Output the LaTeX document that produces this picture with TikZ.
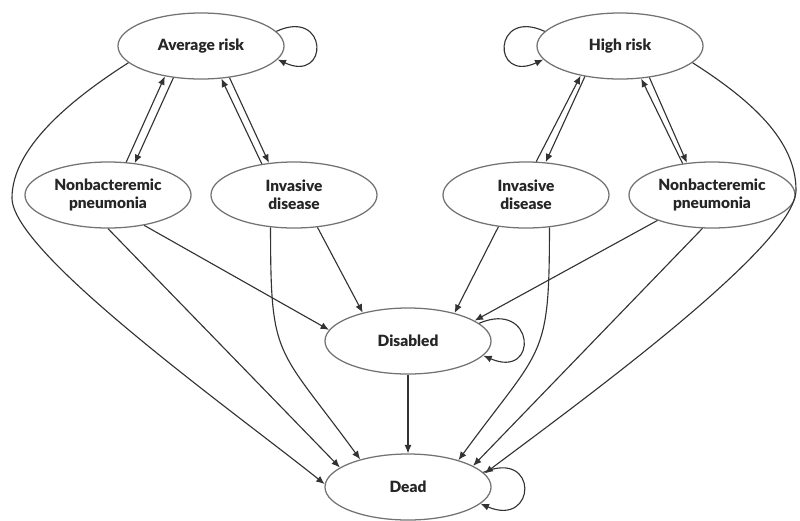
\documentclass[tikz,border=0pt]{standalone}
\usepackage{fontspec}
\setmainfont{Lato}[BoldFont=Lato Black]
\usepackage{xcolor}
\usetikzlibrary{shapes.geometric, arrows.meta}

\begin{document}
\begin{tikzpicture}[x=0.025cm, y=-0.025cm,
	state/.style={ellipse, draw=black!55, line width=0.9pt, minimum width=4.15cm, minimum height=1.65cm, inner sep=0pt, align=center, font=\fontsize{11}{13}\selectfont\bfseries, text=black!85},
	link/.style={draw=black!80, line width=0.8pt, -{Latex[length=6pt,width=5pt]}}]
	\useasboundingbox (0,0) rectangle (800,520);
	\node[state] (avg) at (201,46) {Average risk};
	\node[state] (high) at (620,46) {High risk};
	\node[state] (npl) at (108,195) {Nonbacteremic\\pneumonia};
	\node[state] (invl) at (294,195) {Invasive\\disease};
	\node[state] (invr) at (526,195) {Invasive\\disease};
	\node[state] (npr) at (712,195) {Nonbacteremic\\pneumonia};
	\node[state] (dis) at (408,341) {Disabled};
	\node[state] (dead) at (408,487) {Dead};
	\coordinate (lbend) at (12,198);
	\coordinate (rbend) at (796,190);

	\foreach \a/\p/\b/\q in {npl/61/avg/220, avg/229/npl/50, invl/136/avg/302, avg/312/invl/128,
		invr/73/high/217, high/221/invr/59, npr/133/high/303, high/313/npr/128,
		npl/270/dead/164, npl/320/dis/172, invl/306/dis/148, invr/229/dis/31,
		npr/205/dis/17, npr/254/dead/18, dis/270/dead/90}
	{
		\draw[link] (\a.\p) -- (\b.\q);
	}
	\draw[link] (invl.234) .. controls +(0,134) and +(-84,-115) .. (dead.150);
	\draw[link] (invr.306) .. controls +(0,134) and +(84,-115) .. (dead.28);
	\draw[link] (avg.193) .. controls +(-58,37) and +(0,-50) .. (lbend) .. controls +(0,55) and +(-94,-75) .. (dead.178);
	\draw[link] (high.347) .. controls +(58,37) and +(0,-50) .. (rbend) .. controls +(0,55) and +(96,-72) .. (dead.10);

	\draw[link] (avg.11) .. controls +(52,-24) and +(52,24) .. (avg.-10);
	\draw[link] (high.169) .. controls +(-52,-24) and +(-52,24) .. (high.190);
	\draw[link] (dis.14) .. controls +(56,-24) and +(56,24) .. (dis.-11);
	\draw[link] (dead.11) .. controls +(56,-24) and +(56,24) .. (dead.-13);
\end{tikzpicture}
\end{document}
